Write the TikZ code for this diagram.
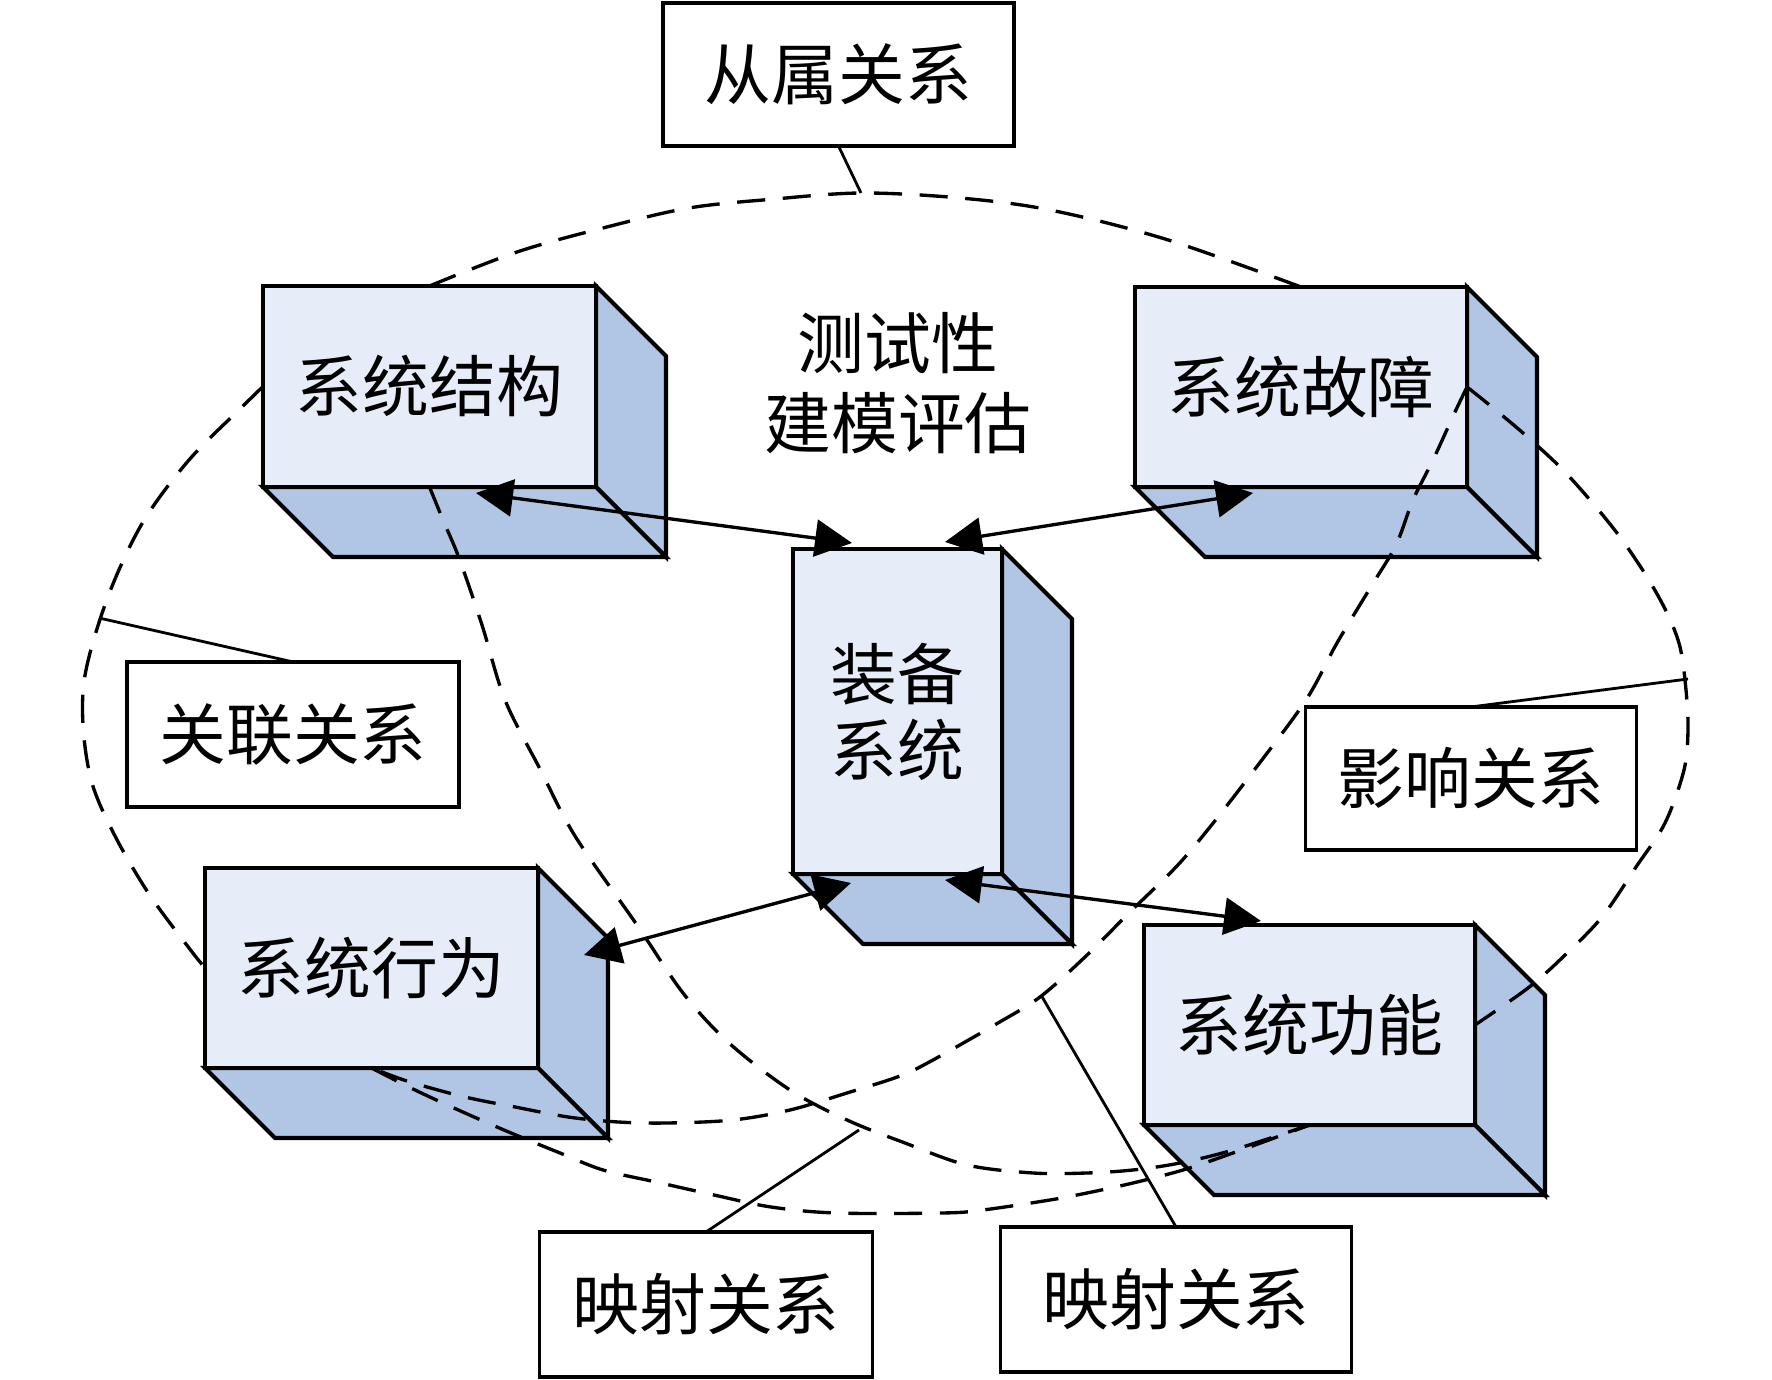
\documentclass[tikz,border=0pt]{standalone}
\usepackage{fontspec}
\setmainfont{Noto Sans CJK SC}
\usetikzlibrary{arrows.meta}
\definecolor{frontc}{RGB}{230,237,248}
\definecolor{sidec}{RGB}{176,198,228}
\newcommand\mycube[6]{%
  \filldraw[cubeline, fill=sidec] (#2+#4,#3) -- (#2+#4+70,#3+70) -- (#2+#4+70,#3+#5+70) -- (#2+#4,#3+#5) -- cycle;
  \filldraw[cubeline, fill=sidec] (#2,#3+#5) -- (#2+#4,#3+#5) -- (#2+#4+70,#3+#5+70) -- (#2+70,#3+#5+70) -- cycle;
  \node[frontface, minimum width=#4*0.01cm, minimum height=#5*0.01cm, anchor=north west] (#1) at (#2,#3) {#6};
}
\begin{document}
\begin{tikzpicture}[x=0.01cm, y=-0.01cm,
  cubeline/.style={line width=1.15pt, line join=miter},
  frontface/.style={draw, line width=1.15pt, fill=frontc, inner sep=0pt, outer sep=0pt, align=center,
     font=\fontsize{19pt}{21.6pt}\selectfont},
  labelbox/.style={draw, line width=1pt, fill=white, inner sep=0pt, outer sep=0pt,
     font=\fontsize{19pt}{22pt}\selectfont},
  relline/.style={line width=0.95pt, dash pattern=on 8pt off 5pt},
  leader/.style={line width=0.8pt},
  arr/.style={line width=0.95pt, {Triangle[length=10.5pt,width=10.5pt]}-{Triangle[length=10.5pt,width=10.5pt]}}
]
\useasboundingbox (0,0) rectangle (1772,1380);

% cubes
\mycube{jg}{263}{286}{333}{201}{系统结构}
\mycube{gz}{1135}{287}{332}{200}{系统故障}
\mycube{zb}{793}{549}{209}{325}{装备\\系统}
\mycube{xw}{205}{868}{333}{200}{系统行为}
\mycube{gn}{1144}{925}{331}{200}{系统功能}

% centre text
\node[align=center, font=\fontsize{19pt}{22.8pt}\selectfont] (title) at (898,383) {测试性\\建模评估};

% arrow end points
\coordinate (a1) at (476,493);
\coordinate (a2) at (852,543);
\coordinate (a3) at (945,542);
\coordinate (a4) at (1253,493);
\coordinate (a5) at (584,955);
\coordinate (a6) at (851,883);
\coordinate (a7) at (945,880);
\coordinate (a8) at (1261,921);
\draw[arr] (a1) -- (a2);
\draw[arr] (a3) -- (a4);
\draw[arr] (a5) -- (a6);
\draw[arr] (a7) -- (a8);

% dashed relation curves
\draw[relline] plot[smooth, tension=0.55] coordinates {(jg.north) (517,252) (603,228) (689,208) (775,199) (862,193) (960,198) (1050,210) (1165,239) (gz.north)};
\draw[relline] plot[smooth, tension=0.55] coordinates {(jg.west) (241,408) (189,460) (143,522) (109,594) (86,670) (83,725) (92,783) (115,836) (149,894) (189,948) (xw.west)};
\draw[relline] plot[smooth, tension=0.55] coordinates {(gz.east) (1487,403) (1523,433) (1560,467) (1590,500) (1620,537) (1647,577) (1667,613) (1680,647) (1686,690) (1688,730) (1684,770) (1665,823) (1636,867) (1602,917) (1563,957) (1528,988) (gn.east)};
\draw[relline] plot[smooth, tension=0.55] coordinates {(gz.east) (1455,412) (1433,460) (1413,500) (1396,545) (1372,585) (1337,643) (1306,700) (1255,769) (1210,827) (1176,867) (1130,912) (1085,957) (1040,997) (998,1023) (933,1060) (900,1076) (847,1093) (790,1110) (733,1120) (668,1123) (618,1122) (568,1117) (515,1107) (465,1097) (410,1082) (xw.south)};
\draw[relline] plot[smooth, tension=0.55] coordinates {(jg.south) (443,520) (459,558) (482,625) (505,700) (540,769) (575,836) (637,925) (683,993) (729,1043) (790,1090) (847,1120) (905,1143) (967,1165) (1033,1173) (1087,1173) (1133,1170) (1180,1163) (1233,1150) (gn.south)};
\draw[relline] plot[smooth, tension=0.55] coordinates {(xw.south) (415,1090) (465,1113) (511,1133) (560,1153) (603,1170) (656,1182) (714,1195) (771,1207) (836,1213) (943,1213) (983,1210) (1050,1200) (1087,1193) (1133,1183) (1183,1170) (1233,1153) (gn.south)};

% label boxes
\node[labelbox, minimum width=3.51cm, minimum height=1.43cm] (cs) at (838.5,74.5) {从属关系};
\node[labelbox, minimum width=3.32cm, minimum height=1.45cm] (gl) at (293,734.5) {关联关系};
\node[labelbox, minimum width=3.31cm, minimum height=1.43cm] (yx) at (1471,778.5) {影响关系};
\node[labelbox, minimum width=3.33cm, minimum height=1.45cm] (ys1) at (706,1304.5) {映射关系};
\node[labelbox, minimum width=3.51cm, minimum height=1.45cm] (ys2) at (1176,1299.5) {映射关系};

% leader points on curves
\coordinate (pcs) at (861,193);
\coordinate (pgl) at (99,618);
\coordinate (pyx) at (1688,679);
\coordinate (pys1) at (859,1130);
\coordinate (pys2) at (1041,995);
\draw[leader] (cs.south) -- (pcs);
\draw[leader] (gl.north) -- (pgl);
\draw[leader] (yx.north) -- (pyx);
\draw[leader] (ys1.north) -- (pys1);
\draw[leader] (ys2.north) -- (pys2);
\end{tikzpicture}
\end{document}
